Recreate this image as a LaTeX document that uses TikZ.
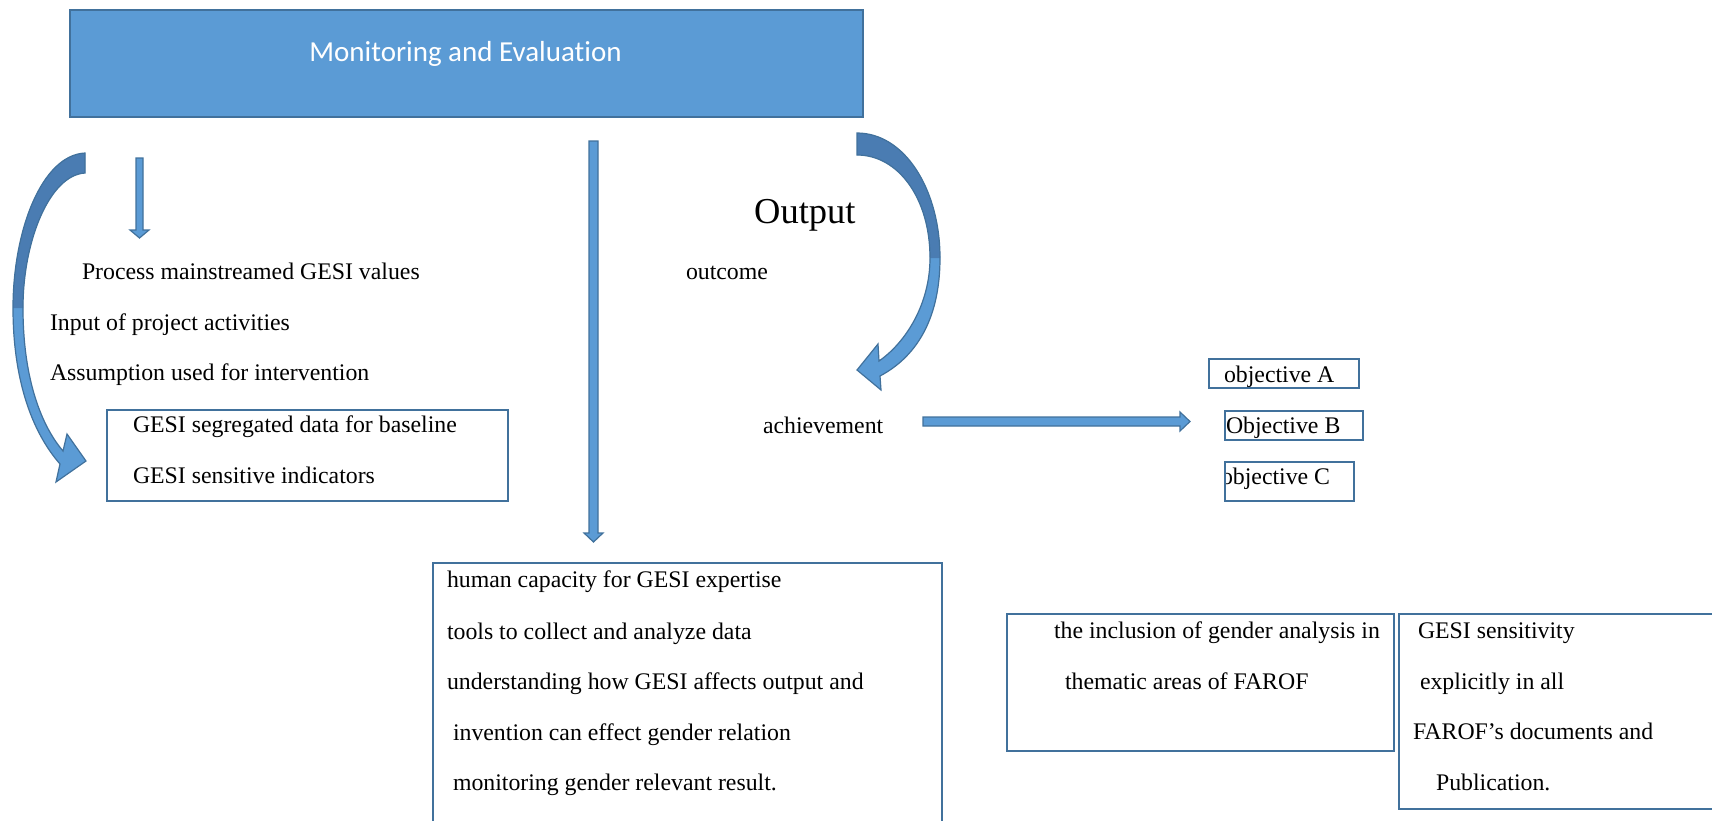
\documentclass[tikz,border=0pt]{standalone}
\usepackage{fontspec}
\setmainfont{Liberation Serif}
\newfontfamily\calibrifont[Ligatures={NoCommon,NoRequired,NoContextual}]{Carlito}
\definecolor{boxblue}{HTML}{5B9BD5}
\definecolor{edgeblue}{HTML}{41719C}
\definecolor{backblue}{RGB}{74,124,178}
\begin{document}
\begin{tikzpicture}[x=1pt,y=-1pt,
  txt/.style={anchor=base west, inner sep=0pt, outer sep=0pt, yshift=-2pt, font=\fontsize{23.8}{28}\selectfont, text=black},
  frame/.style={draw=edgeblue, line width=2.5pt, anchor=north west, inner sep=0pt, outer sep=0pt},
  blockarrow/.style={fill=boxblue, draw=edgeblue, line width=1.2pt, line join=miter},
  arrowedge/.style={draw=edgeblue, line width=1.2pt, line join=miter}]
\useasboundingbox (0,0) rectangle (1712,820);
\clip (0,0) rectangle (1712,820);

% title box
\node[draw=edgeblue, fill=boxblue, line width=2pt, anchor=north west, inner sep=0pt,
      minimum width=793pt, minimum height=107pt] (me) at (69,9) {};
\node[anchor=base, inner sep=0pt, font=\calibrifont\fontsize{29}{34}\selectfont, text=white] (metext) at (465.5,61) {Monitoring and Evaluation};

% left curved arrow
\fill[boxblue] (85,153) .. controls (42,155) and (13,230) .. (13,308) .. controls (13,380) and (32,432) .. (60,464) -- (56,482) -- (86,461) -- (67,434) -- (63,451) .. controls (40,424) and (23,376) .. (23,308) .. controls (23,240) and (50,175) .. (85,173) -- cycle;
\fill[backblue] (85,153) .. controls (42,155) and (13,230) .. (13,308) -- (23,308) .. controls (23,240) and (50,175) .. (85,173) -- cycle;
\draw[arrowedge] (85,153) .. controls (42,155) and (13,230) .. (13,308) .. controls (13,380) and (32,432) .. (60,464) -- (56,482) -- (86,461) -- (67,434) -- (63,451) .. controls (40,424) and (23,376) .. (23,308) .. controls (23,240) and (50,175) .. (85,173) -- cycle;

% right curved arrow
\fill[boxblue] (857,133) .. controls (905,133) and (940,190) .. (940,258) .. controls (940,322) and (914,358) .. (880,376) -- (881,390) -- (857,370) -- (878,344) -- (879,361) .. controls (905,343) and (930,305) .. (930,258) .. controls (930,198) and (898,155) .. (857,155) -- cycle;
\fill[backblue] (857,133) .. controls (905,133) and (940,190) .. (940,258) -- (930,258) .. controls (930,198) and (898,155) .. (857,155) -- cycle;
\draw[arrowedge] (857,133) .. controls (905,133) and (940,190) .. (940,258) .. controls (940,322) and (914,358) .. (880,376) -- (881,390) -- (857,370) -- (878,344) -- (879,361) .. controls (905,343) and (930,305) .. (930,258) .. controls (930,198) and (898,155) .. (857,155) -- cycle;

% small down arrow
\draw[blockarrow] (136,158) -- (143,158) -- (143,230) -- (149,230) -- (139.5,238) -- (130,230) -- (136,230) -- cycle;
% long down arrow
\draw[blockarrow] (589,141) -- (598,141) -- (598,533) -- (603,533) -- (593.5,542) -- (584,533) -- (589,533) -- cycle;
% horizontal arrow
\draw[blockarrow] (923,417) -- (1180,417) -- (1180,412) -- (1190,421.5) -- (1180,431) -- (1180,426) -- (923,426) -- cycle;

% left texts
\node[txt] (proc) at (82,277) {Process mainstreamed GESI values};
\node[txt] (inp) at (50,328) {Input of project activities};
\node[txt] (ass) at (50,378) {Assumption used for intervention};
\node[frame, minimum width=401pt, minimum height=91pt] (gesibox) at (107,410) {};
\node[txt] (seg) at (133,430) {GESI segregated data for baseline};
\node[txt] (sensind) at (133,481) {GESI sensitive indicators};

% output area
\node[anchor=base west, inner sep=0pt, font=\fontsize{36.5}{40}\selectfont] (output) at (754,223) {Output};
\node[txt] (outc) at (686,277) {outcome};
\node[txt] (ach) at (763,431) {achievement};

% objectives
\node[frame, minimum width=150pt, minimum height=29pt] (objA) at (1209,359) {};
\node[txt] (objAt) at (1224,380) {objective A};
\node[frame, minimum width=138pt, minimum height=29pt] (objB) at (1225,411) {};
\node[txt] (objBt) at (1226,431) {Objective B};
\node[frame, minimum width=129pt, minimum height=39pt] (objC) at (1225,462) {};
\begin{scope}
\clip (1226,455) rectangle (1360,505);
\node[txt] (objCt) at (1221,482) {objective C};
\end{scope}

% bottom middle box
\node[frame, minimum width=509pt, minimum height=277pt] (capbox) at (433,563) {};
\node[txt] (l1) at (447,585) {human capacity for GESI expertise};
\node[txt] (l2) at (447,637) {tools to collect and analyze data};
\node[txt] (l3) at (447,687) {understanding how GESI affects output and};
\node[txt] (l4) at (453,738) {invention can effect gender relation};
\node[txt] (l5) at (453,788) {monitoring gender relevant result.};

% bottom right boxes
\node[frame, minimum width=387pt, minimum height=137pt] (inclbox) at (1007,614) {};
\node[txt] (i1) at (1054,636) {the inclusion of gender analysis in};
\node[txt] (i2) at (1065,687) {thematic areas of FAROF};
\node[frame, minimum width=331pt, minimum height=195pt] (sensbox) at (1399,614) {};
\node[txt] (s1) at (1418,636) {GESI sensitivity};
\node[txt] (s2) at (1420,687) {explicitly in all};
\node[txt] (s3) at (1413,737) {FAROF’s documents and};
\node[txt] (s4) at (1436,788) {Publication.};
\end{tikzpicture}
\end{document}
